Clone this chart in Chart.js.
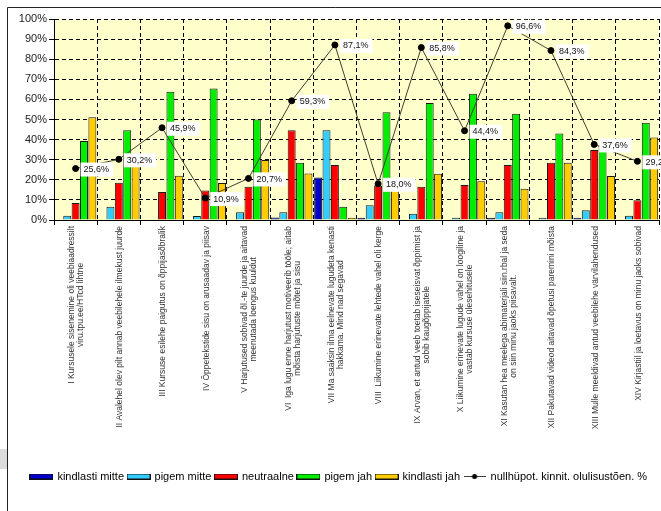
<!DOCTYPE html>
<html>
<head>
<meta charset="utf-8">
<script src="https://cdn.jsdelivr.net/npm/chart.js@4"></script>
<style>
  html, body { margin: 0; padding: 0; overflow: hidden; background: #fff; }
  canvas { display: block; }
</style>
</head>
<body>
<canvas id="c" width="664" height="511"></canvas>
<script>
// category labels (multi-line, rotated under the axis)
const categories = [
  ['I Kursusele sisenemine oli veebiaadressilt', 'viru.tpu.ee/HTcd lihtne'],
  ['II Avalehel olev pilt annab veebilehele ilmekust juurde'],
  ['III Kursuse esilehe paigutus on õppijasõbralik'],
  ['IV Õppetekstide sisu on arusaadav ja piisav'],
  ['V Harjutused sobivad õl.-te juurde ja aitavad', 'meenutada loengus kuuldut'],
  ['VI  Iga lugu enne harjutust motiveerib tööle; aitab', 'mõista harjutuste mõtet ja sisu'],
  ['VII Ma saaksin ilma eelnevate lugudeta kenasti', 'hakkama. Mind nad segavad'],
  ['VIII  Liikumine erinevate lehtede vahel oli kerge'],
  ['IX Arvan, et antud veeb toetab iseseisvat õppimist ja', 'sobib kaugõppijatele'],
  ['X Liikumine erinevate lugude vahel on loogiline ja', 'vastab kursuse ülesehitusele'],
  ['XI Kasutan hea meelega abimaterjali siin.rbal ja seda', 'on siin minu jaoks piisavalt.'],
  ['XII Pakutavad videod aitavad õpetusi paremini mõista'],
  ['XIII Mulle meeldivad antud veebilehe värvilahendused'],
  ['XIV Kirjastiil ja loetavus on minu jaoks sobivad']
];

const kindlastiMitte = [0, 0, 0, 0, 0, 1.3, 21.1, 1.1, 0, 0, 1.1, 0, 1.1, 0];
const pigemMitte     = [2.1, 6.6, 0, 2.0, 3.9, 3.9, 44.6, 7.4, 3.1, 1.1, 3.9, 1.1, 4.9, 2.1];
const neutraalne     = [8.5, 18.5, 13.9, 14.7, 16.6, 44.6, 27.4, 17.2, 16.6, 17.4, 27.4, 28.5, 34.8, 9.8];
const pigemJah       = [39.3, 44.6, 63.8, 65.4, 50.0, 28.5, 6.6, 53.6, 58.2, 62.8, 52.8, 43.0, 37.3, 48.4];
const kindlastiJah   = [51.1, 30.0, 22.0, 18.4, 29.8, 23.1, 1.1, 20.0, 23.0, 19.3, 15.6, 28.5, 21.9, 41.0];
const olulisus       = [25.6, 30.2, 45.9, 10.9, 20.7, 59.3, 87.1, 18.0, 85.8, 44.4, 96.6, 84.3, 37.6, 29.2];

const yTicks = [0, 10, 20, 30, 40, 50, 60, 70, 80, 90, 100];

const barSeries = [
  ['kindlasti mitte', kindlastiMitte, '#0000cc'],
  ['pigem mitte', pigemMitte, '#33ccff'],
  ['neutraalne', neutraalne, '#ff0000'],
  ['pigem jah', pigemJah, '#00ee00'],
  ['kindlasti jah', kindlastiJah, '#ffcc00']
];
const lineLabel = 'nullhüpot. kinnit. olulisustõen. %';
const lineColor = '#404030';

// legend icons
function swatch(color) {
  const cv = document.createElement('canvas');
  cv.width = 24; cv.height = 6;
  const g = cv.getContext('2d');
  g.fillStyle = color; g.fillRect(0, 0, 24, 6);
  g.strokeStyle = '#111'; g.lineWidth = 1; g.strokeRect(0.5, 0.5, 23, 5);
  return cv;
}
function lineIcon() {
  const cv = document.createElement('canvas');
  cv.width = 22; cv.height = 7;
  const g = cv.getContext('2d');
  g.strokeStyle = lineColor; g.lineWidth = 1;
  g.beginPath(); g.moveTo(0, 3.5); g.lineTo(22, 3.5); g.stroke();
  g.fillStyle = '#000'; g.beginPath(); g.arc(11, 3.5, 2.5, 0, Math.PI * 2); g.fill();
  return cv;
}
const legendIcons = barSeries.map(s => swatch(s[2])).concat([lineIcon()]);

const bgPlugin = {
  id: 'bg',
  afterLayout(chart) {
    // legend sits a little right of the canvas centre in the original
    chart.legend.left += 8;
    chart.legend.right += 8;
  },
  beforeDraw(chart) {
    const c = chart.ctx, a = chart.chartArea;
    c.save();
    c.fillStyle = '#fff'; c.fillRect(0, 0, chart.width, chart.height);
    c.fillStyle = '#dcdcdc'; c.fillRect(0, 449, 7, 20);
    c.strokeStyle = '#222'; c.lineWidth = 1;
    c.beginPath();
    c.moveTo(7.5, chart.height); c.lineTo(7.5, 7.5); c.lineTo(chart.width, 7.5);
    c.stroke();
    c.fillStyle = '#ffffcc';
    c.fillRect(a.left, a.top, a.right - a.left, a.bottom - a.top);
    c.restore();
  }
};

const catLabelPlugin = {
  id: 'catLabels',
  afterDraw(chart) {
    const c = chart.ctx, xs = chart.scales.x;
    const top = chart.chartArea.bottom + 6;
    const lh = 9;
    c.save();
    c.font = '8.5px Arial';
    c.fillStyle = '#333';
    c.textAlign = 'center';
    c.textBaseline = 'middle';
    categories.forEach((lines, i) => {
      const x = xs.getPixelForValue(i);
      const w = Math.max(...lines.map(l => c.measureText(l).width));
      c.save();
      c.translate(x + 1, top + w / 2);
      c.rotate(-Math.PI / 2);
      lines.forEach((l, k) => {
        c.fillText(l, 0, (k - (lines.length - 1) / 2) * lh);
      });
      c.restore();
    });
    c.restore();
  }
};

const valueLabelPlugin = {
  id: 'valueLabels',
  afterDatasetsDraw(chart) {
    const c = chart.ctx;
    const meta = chart.getDatasetMeta(barSeries.length);
    c.save();
    c.font = '9px Arial';
    c.textBaseline = 'middle';
    c.textAlign = 'left';
    meta.data.forEach((pt, i) => {
      const txt = olulisus[i].toFixed(1).replace('.', ',') + '%';
      const w = c.measureText(txt).width;
      c.fillStyle = '#fff';
      c.fillRect(pt.x + 5, pt.y - 6, w + 7, 14);
      c.fillStyle = '#111';
      c.fillText(txt, pt.x + 8, pt.y + 1);
    });
    c.restore();
  }
};

new Chart(document.getElementById('c').getContext('2d'), {
  type: 'bar',
  data: {
    labels: categories.map(l => l.join(' ')),
    datasets: barSeries.map(([label, data, color]) => ({
      label, data,
      backgroundColor: color,
      borderColor: '#1a1a1a',
      borderWidth: 1,
      categoryPercentage: 0.97,
      barPercentage: 0.95,
      order: 1
    })).concat([{
      type: 'line',
      label: lineLabel,
      data: olulisus,
      borderColor: lineColor,
      borderWidth: 1,
      pointRadius: 3,
      pointBackgroundColor: '#000',
      pointBorderColor: '#000',
      tension: 0,
      order: 0
    }])
  },
  options: {
    responsive: false,
    animation: false,
    layout: { padding: { top: 19, right: 2, bottom: 19, left: 0 } },
    plugins: {
      tooltip: { enabled: false },
      legend: {
        position: 'bottom',
        labels: {
          usePointStyle: true,
          pointStyleWidth: 21,
          boxHeight: 7,
          padding: 4,
          color: '#000',
          font: { family: 'Arial', size: 11 },
          sort: (a, b) => a.datasetIndex - b.datasetIndex,
          generateLabels: chart => Chart.defaults.plugins.legend.labels.generateLabels(chart)
            .map(it => Object.assign(it, { pointStyle: legendIcons[it.datasetIndex] }))
        }
      }
    },
    scales: {
      x: {
        ticks: { display: false },
        grid: { color: '#000', offset: true, tickLength: 5, tickColor: '#000' },
        border: { color: '#000', dash: [4, 3] },
        afterFit: s => { s.height = 247; }
      },
      y: {
        min: 0, max: 100,
        afterBuildTicks: s => { s.ticks = yTicks.map(v => ({ value: v })); },
        ticks: {
          callback: v => v + '%',
          color: '#222',
          padding: 2,
          font: { family: 'Arial', size: 11 }
        },
        grid: { color: '#000', tickLength: 5, tickColor: '#000' },
        border: { color: '#000', dash: [4, 3] },
        afterFit: s => { s.width = 54; }
      }
    }
  },
  plugins: [bgPlugin, catLabelPlugin, valueLabelPlugin]
});
</script>
</body>
</html>
